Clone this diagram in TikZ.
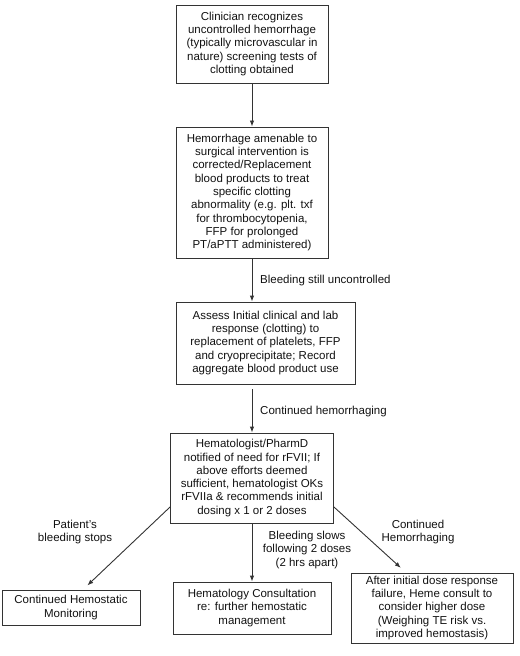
\documentclass[tikz,border=0pt]{standalone}
\usepackage{fontspec}
\setmainfont{Liberation Sans}
\usetikzlibrary{arrows.meta,positioning}
\definecolor{ln}{HTML}{333333}
\definecolor{tx}{HTML}{111111}
\tikzset{
  box/.style={draw=ln, line width=0.9bp, align=center, inner sep=0pt, text=tx,
    font=\fontsize{11.5bp}{13.3bp}\selectfont},
  lbl/.style={align=center, inner sep=0pt, text=tx, font=\fontsize{11.5bp}{13.3bp}\selectfont},
  arr/.style={draw=ln, line width=0.9bp, -{Latex[length=6bp,width=4.5bp]}}
}
\begin{document}
\begin{tikzpicture}[x=1bp,y=-1bp]
\useasboundingbox (0,0) rectangle (520,656);
\node[box, minimum width=152bp, minimum height=78bp] (b1) at (252,44)
  {Clinician recognizes\\uncontrolled hemorrhage\\(typically microvascular in\\nature) screening tests of\\clotting obtained};
\node[box, minimum width=152bp, minimum height=131bp] (b2) at (252,192.5)
  {Hemorrhage amenable to\\surgical intervention is\\corrected/Replacement\\blood products to treat\\specific clotting\\abnormality (e.g. plt. txf\\for thrombocytopenia,\\FFP for prolonged\\PT/aPTT administered)};
\node[box, minimum width=179bp, minimum height=82bp] (b3) at (265.5,343)
  {Assess Initial clinical and lab\\response (clotting) to\\replacement of platelets, FFP\\and cryoprecipitate; Record\\aggregate blood product use};
\node[box, minimum width=163bp, minimum height=90bp] (b4) at (252,478)
  {Hematologist/PharmD\\notified of need for rFVII; If\\above efforts deemed\\sufficient, hematologist OKs\\rFVIIa \& recommends initial\\dosing x 1 or 2 doses};
\node[box, minimum width=138bp, minimum height=35bp] (bl) at (71,607.5)
  {Continued Hemostatic\\Monitoring};
\node[box, minimum width=158bp, minimum height=52bp] (bm) at (252,608)
  {Hematology Consultation\\re: further hemostatic\\management};
\node[box, minimum width=162bp, minimum height=70bp] (br) at (432,608)
  {After initial dose response\\failure, Heme consult to\\consider higher dose\\(Weighing TE risk vs.\\improved hemostasis)};

\draw[arr] (b1.south) -- (b2.north);
\draw[arr] (b2.south) -- (b2.south |- b3.north);
\draw[arr, shorten <=5bp] (b4.north |- b3.south) -- (b4.north);
\draw[arr, shorten >=6bp] ([yshift=-29bp]b4.west) -- ([xshift=12bp]bl.north);
\draw[arr] (b4.south) -- (bm.north);
\draw[arr, shorten >=7bp] ([yshift=-29bp]b4.east) -- ([xshift=-26bp]br.north);

\node[lbl, anchor=west] (l1) at (260,281) {Bleeding still uncontrolled};
\node[lbl, anchor=west] (l2) at (260,412) {Continued hemorrhaging};
\node[lbl] (l3) at (75,532) {Patient's\\bleeding stops};
\node[lbl] (l4) at (307,550) {Bleeding slows\\following 2 doses\\(2 hrs apart)};
\node[lbl] (l5) at (418,532) {Continued\\Hemorrhaging};
\end{tikzpicture}
\end{document}
